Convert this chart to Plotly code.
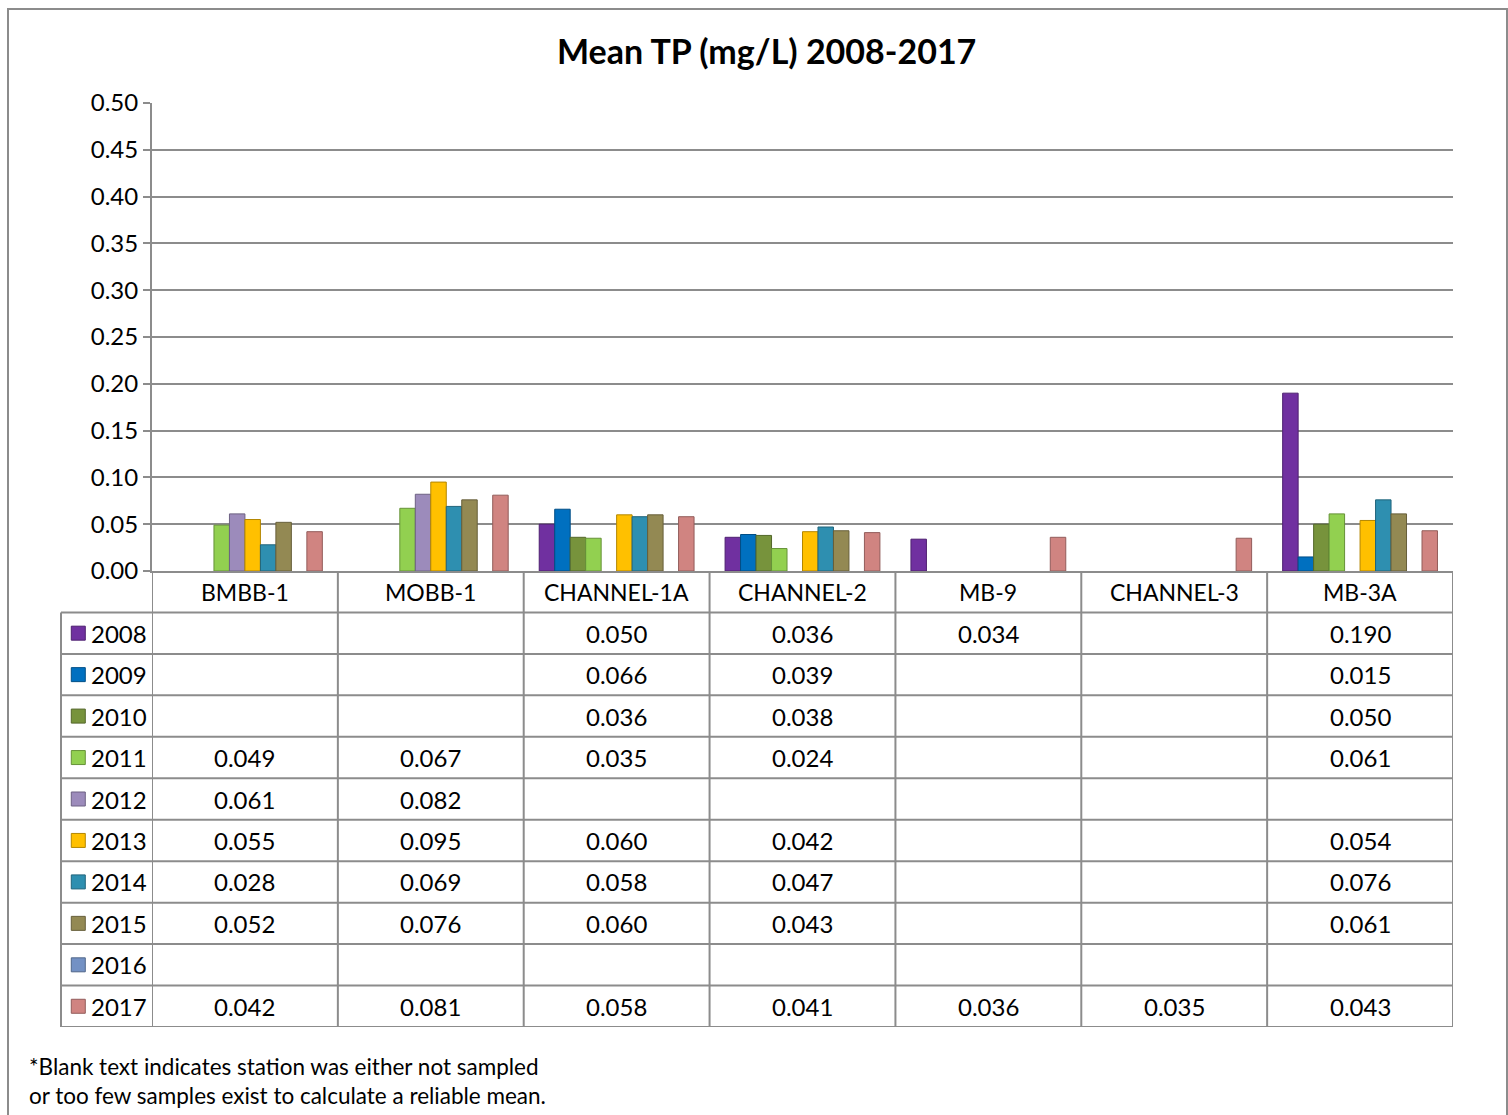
import plotly.graph_objects as go

# Stations (columns of the chart and data table)
stations = ["BMBB-1", "MOBB-1", "CHANNEL-1A", "CHANNEL-2", "MB-9", "CHANNEL-3", "MB-3A"]
years = ["2008", "2009", "2010", "2011", "2012", "2013", "2014", "2015", "2016", "2017"]

# Mean TP (mg/L) per year, one value per station; None = not sampled / too few samples
tp_2008 = [None, None, 0.050, 0.036, 0.034, None, 0.190]
tp_2009 = [None, None, 0.066, 0.039, None, None, 0.015]
tp_2010 = [None, None, 0.036, 0.038, None, None, 0.050]
tp_2011 = [0.049, 0.067, 0.035, 0.024, None, None, 0.061]
tp_2012 = [0.061, 0.082, None, None, None, None, None]
tp_2013 = [0.055, 0.095, 0.060, 0.042, None, None, 0.054]
tp_2014 = [0.028, 0.069, 0.058, 0.047, None, None, 0.076]
tp_2015 = [0.052, 0.076, 0.060, 0.043, None, None, 0.061]
tp_2016 = [None, None, None, None, None, None, None]
tp_2017 = [0.042, 0.081, 0.058, 0.041, 0.036, 0.035, 0.043]

series = [tp_2008, tp_2009, tp_2010, tp_2011, tp_2012,
          tp_2013, tp_2014, tp_2015, tp_2016, tp_2017]

colors = ["#7030A0", "#0070C0", "#77933C", "#92D050", "#9C8BBB",
          "#FFC000", "#2E8FB0", "#938953", "#7391C4", "#D08481"]
edges = ["#4E2070", "#004E86", "#53672A", "#669238", "#6D6183",
         "#B38600", "#20647B", "#675F3A", "#506689", "#925C5A"]

W, H = 1508, 1115
FONT = "Lato"
GRID = "#8C8C8C"
TXT = 24

# pixel layout helpers (paper fractions)
def px(x):
    return x / W

def py(y):
    return 1 - y / H

plot_l, plot_r = 152, 1453
plot_t, plot_b = 103, 571
tab_b = 1027
key_l = 61

fig = go.Figure()

for yr, vals, c, e in zip(years, series, colors, edges):
    fig.add_trace(go.Bar(
        x=stations, y=vals, name=yr,
        marker=dict(color=c, line=dict(color=e, width=1)),
        xaxis="x", yaxis="y", showlegend=False,
    ))

# legend keys in the data table
fig.add_trace(go.Scatter(
    x=[0.19] * len(years), y=list(range(1, len(years) + 1)),
    mode="markers",
    marker=dict(symbol="square", size=14, color=colors,
                line=dict(color=edges, width=1)),
    xaxis="x3", yaxis="y2", showlegend=False, hoverinfo="skip",
))

shapes = []
annotations = []

# outer chart border
shapes.append(dict(type="rect", xref="paper", yref="paper",
                   x0=px(8), x1=px(1507), y0=py(1125), y1=py(9),
                   line=dict(color="#8C8C8C", width=2)))

# table horizontal rules
n_rows = len(years)
for k in range(n_rows + 1):
    shapes.append(dict(type="line", xref="paper", yref="y2",
                       x0=px(key_l), x1=px(plot_r), y0=k + 0.5, y1=k + 0.5,
                       line=dict(color=GRID, width=2)))
# table vertical rules
for k in range(len(stations) + 1):
    shapes.append(dict(type="line", xref="x", yref="y2",
                       x0=k - 0.5, x1=k - 0.5, y0=-0.5, y1=n_rows + 0.5,
                       line=dict(color=GRID, width=2)))
shapes.append(dict(type="line", xref="paper", yref="y2",
                   x0=px(key_l), x1=px(key_l), y0=0.5, y1=n_rows + 0.5,
                   line=dict(color=GRID, width=2)))

# header row: station names
for s in stations:
    annotations.append(dict(x=s, y=0, xref="x", yref="y2", text=s,
                            showarrow=False, font=dict(size=23, color="#000000")))

# year labels and values
for r, (yr, vals) in enumerate(zip(years, series), start=1):
    annotations.append(dict(x=0.31, y=r, xref="x3", yref="y2", text=yr,
                            xanchor="left", showarrow=False,
                            font=dict(size=TXT, color="#000000")))
    for s, v in zip(stations, vals):
        if v is not None:
            annotations.append(dict(x=s, y=r, xref="x", yref="y2",
                                    text=f"{v:.3f}", showarrow=False,
                                    font=dict(size=TXT, color="#000000")))

# title
annotations.append(dict(x=px(767), y=py(50), xref="paper", yref="paper",
                        text="<b>Mean TP (mg/L) 2008-2017</b>", showarrow=False,
                        xanchor="center", yanchor="middle",
                        font=dict(size=34, color="#000000")))
# footnote
annotations.append(dict(x=px(27), y=py(1081), xref="paper", yref="paper",
                        text="*Blank text indicates station was either not sampled<br>"
                             "or too few samples exist to calculate a reliable mean.",
                        xanchor="left", yanchor="middle", align="left",
                        showarrow=False,
                        font=dict(size=22.5, color="#000000")))

fig.update_layout(
    width=W, height=H,
    margin=dict(l=0, r=0, t=0, b=0, pad=0, autoexpand=False),
    paper_bgcolor="white", plot_bgcolor="white",
    font=dict(family=FONT, color="#000000"),
    barmode="group", bargap=0.167, bargroupgap=0,
    xaxis=dict(domain=[px(plot_l), px(plot_r)], range=[-0.5, 6.5],
               showticklabels=False, showgrid=False, zeroline=False,
               showline=True, linecolor=GRID, linewidth=2,
               anchor="y", fixedrange=True),
    yaxis=dict(domain=[py(plot_b), py(plot_t)], range=[0, 0.5],
               dtick=0.05, tickformat=".2f",
               showgrid=True, gridcolor=GRID, gridwidth=2,
               zeroline=False, showline=True, linecolor=GRID, linewidth=2,
               ticks="outside", ticklen=7, tickcolor=GRID, tickwidth=2,
               tickfont=dict(size=TXT, color="#000000"),
               anchor="x"),
    yaxis2=dict(domain=[py(tab_b), py(plot_b)], range=[n_rows + 0.5, -0.5],
                visible=False, anchor="x3"),
    xaxis3=dict(domain=[px(key_l), px(plot_l)], range=[0, 1],
                visible=False, anchor="y2"),
    shapes=shapes,
    annotations=annotations,
)

fig.write_html("out.html")
